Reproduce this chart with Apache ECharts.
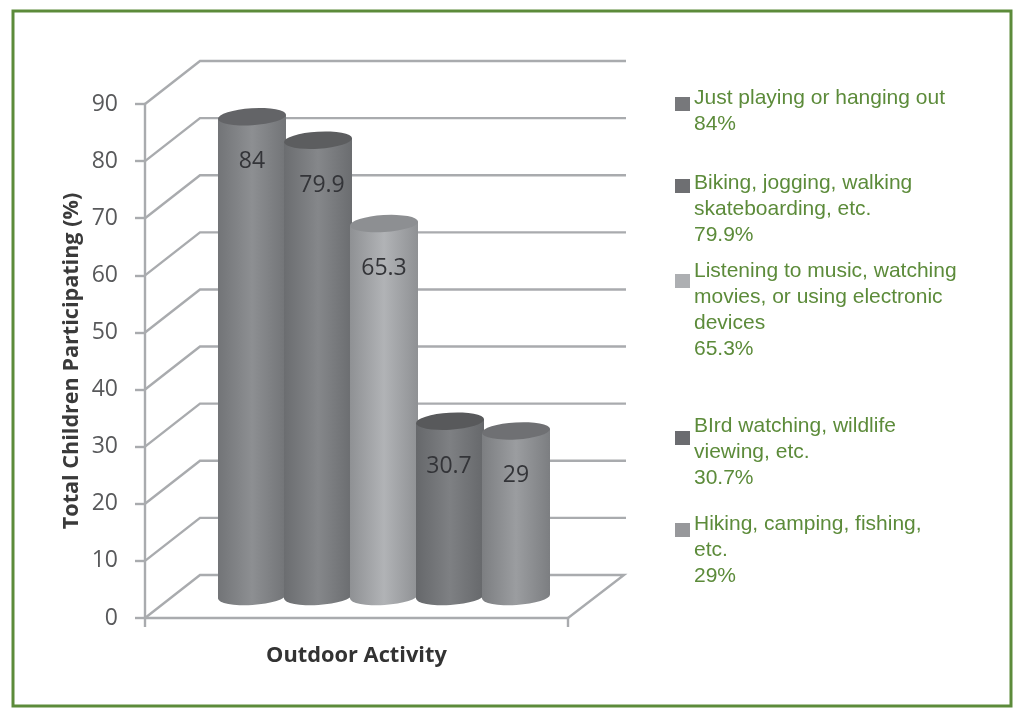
<!DOCTYPE html>
<html><head><meta charset="utf-8">
<style>html,body{margin:0;padding:0;background:#fff}#c{width:1024px;height:718px}</style>
<script src="https://cdn.jsdelivr.net/npm/echarts@6/dist/echarts.min.js"></script>
</head><body><div id="c"></div>
<script>
var categories = ['Just playing or hanging out','Biking, jogging, walking skateboarding, etc.','Listening to music, watching movies, or using electronic devices','BIrd watching, wildlife viewing, etc.','Hiking, camping, fishing, etc.'];
var values = [84, 79.9, 65.3, 30.7, 29];
var valueLabels = ['84','79.9','65.3','30.7','29'];
var yTicks = [0,10,20,30,40,50,60,70,80,90];
var legendLines = [
  ['Just playing or hanging out','84%'],
  ['Biking, jogging, walking','skateboarding, etc.','79.9%'],
  ['Listening to music, watching','movies, or using electronic','devices','65.3%'],
  ['BIrd watching, wildlife','viewing, etc.','30.7%'],
  ['Hiking, camping, fishing,','etc.','29%']
];
var legendTop = [88,173,261,416,514];
var swatchTop = [97,179,274,431,523];
var sideColors = ['#727477','#6b6d70','#8f9194','#66686b','#7c7e81'];
var midColors = ['#8d8f92','#85878a','#b1b3b6','#7e8083','#9b9da0'];
var topColors = ['#636467','#5c5d5f','#8d8f92','#58595b','#6f7073'];
var swatchColors = ['#77787b','#6e6f72','#adafb2','#6b6c70','#97989b'];
var labelShift = [0,4,0,-1,0];

var GREEN = '#5c8b3a', GRID = '#a9abae';
var DX = 55, DY = -43, STEP = 66, RX = 34, RY = 8.5, TILT = -3.5;

function wallItem(params, api) {
  var p = api.coord([0, api.value(0)]);
  var size = api.size([1, 0]);
  var x0 = p[0] - size[0] / 2, x1 = p[0] + size[0] / 2, y = p[1];
  var floor = api.value(0) === 0;
  var pts = [[x0, y], [x0 + DX, y + DY], [x1 + DX + (floor ? 1 : 3), y + DY]];
  if (floor) pts.push([x1, y]);
  return {type: 'polyline', shape: {points: pts},
    style: {fill: null, stroke: GRID, lineWidth: 2.4}, silent: true};
}
function barItem(params, api) {
  var i = params.dataIndex, v = api.value(1);
  var top = api.coord([0, v]), base = api.coord([0, 0]);
  var cx = top[0] + DX / 2 + (i - 2) * STEP;
  var ty = top[1] + DY / 2, by = base[1] + DY / 2;
  var d = RX * Math.sin(-TILT * Math.PI / 180);
  var lx = cx - RX, rx = cx + RX;
  var arc = 'A' + RX + ' ' + RY + ' ' + TILT + ' 1 ';
  var body = 'M' + lx + ' ' + (ty + d) + 'L' + lx + ' ' + (by + d) +
    'A' + RX + ' ' + RY + ' ' + TILT + ' 0 0 ' + rx + ' ' + (by - d) +
    'L' + rx + ' ' + (ty - d) + 'Z';
  var cap = 'M' + lx + ' ' + (ty + d) + arc + '1 ' + rx + ' ' + (ty - d) + arc + '1 ' + lx + ' ' + (ty + d) + 'Z';
  return {type: 'group', children: [
    {type: 'path', shape: {pathData: body}, style: {fill: new echarts.graphic.LinearGradient(0, 0, 1, 0, [
      {offset: 0, color: sideColors[i]}, {offset: 0.5, color: midColors[i]}, {offset: 1, color: sideColors[i]}])}},
    {type: 'path', shape: {pathData: cap}, style: {fill: topColors[i]}},
    {type: 'text', style: {x: cx + labelShift[i], y: ty + 45, text: valueLabels[i], align: 'center', verticalAlign: 'middle',
      fill: '#333438', fontFamily: 'Open Sans', fontSize: 23}}
  ]};
}
var graphics = [{type: 'rect', shape: {x: 13, y: 11, width: 998, height: 695},
  style: {fill: null, stroke: GREEN, lineWidth: 3}, z: 0}];
legendLines.forEach(function (lines, i) {
  graphics.push({type: 'rect', shape: {x: 675, y: swatchTop[i], width: 15, height: 14},
    style: {fill: swatchColors[i]}});
  lines.forEach(function (t, j) {
    graphics.push({type: 'text', x: 694, y: legendTop[i] + j * 26,
      style: {text: t, fill: GREEN, fontFamily: 'Liberation Sans', fontSize: 21}});
  });
});
var chart = echarts.init(document.getElementById('c'), null, {renderer: 'canvas'});
chart.setOption({
  animation: false,
  backgroundColor: '#fff',
  grid: {left: 145, right: 456, top: 104, bottom: 100},
  xAxis: {type: 'category', data: ['Outdoor Activity'], name: 'Outdoor Activity', nameLocation: 'middle', nameGap: 27,
    nameTextStyle: {color: '#333', fontFamily: 'Open Sans', fontWeight: 'bold', fontSize: 21.8},
    axisLabel: {show: false},
    axisTick: {show: true, length: 9, alignWithLabel: false, lineStyle: {color: GRID, width: 2.4}},
    axisLine: {lineStyle: {color: GRID, width: 2.4}}},
  yAxis: {type: 'value', min: 0, max: 90, interval: 10,
    name: 'Total Children Participating (%)', nameLocation: 'middle', nameGap: 62, nameRotate: 90,
    nameTextStyle: {color: '#3a3a3a', fontFamily: 'Open Sans', fontWeight: 'bold', fontSize: 21.6},
    axisLabel: {color: '#58595b', fontFamily: 'Open Sans', fontSize: 23, margin: 27, padding: [8, 0, 0, 0], verticalAlign: 'middle', formatter: function (v) { return yTicks.indexOf(v) >= 0 ? String(v) : ''; }},
    axisTick: {show: true, length: 10, lineStyle: {color: GRID, width: 2.4}},
    axisLine: {show: true, lineStyle: {color: GRID, width: 2.4}},
    splitLine: {show: false}},
  graphic: graphics,
  series: [
    {type: 'custom', name: 'wall', coordinateSystem: 'cartesian2d', data: yTicks.map(function (t) { return [t]; }),
      encode: {y: 0}, renderItem: wallItem, silent: true, z: 1, clip: false},
    {type: 'custom', name: 'Total Children Participating', coordinateSystem: 'cartesian2d',
      data: values.map(function (v, i) { return [0, v, categories[i]]; }),
      encode: {x: 0, y: 1}, renderItem: barItem, z: 2, clip: false}
  ]
});
</script></body></html>
